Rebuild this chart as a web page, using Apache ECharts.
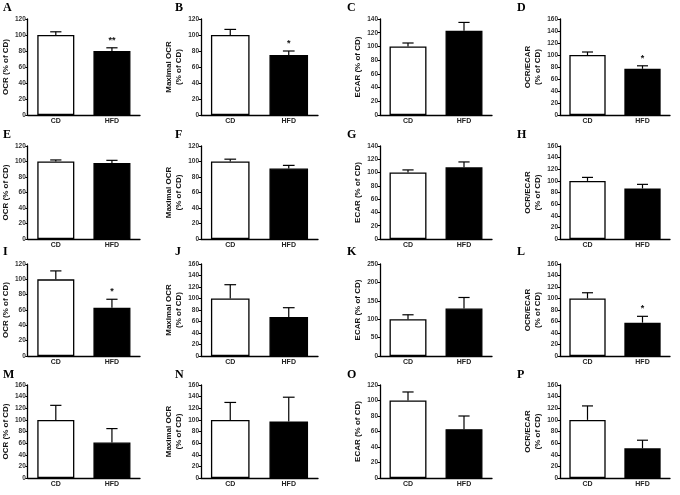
<!DOCTYPE html>
<html>
<head>
<meta charset="utf-8">
<script src="https://cdn.jsdelivr.net/npm/echarts@6/dist/echarts.min.js"></script>
<style>
  html, body { margin: 0; padding: 0; background: #fff; }
  #chart { width: 680px; height: 495px; }
</style>
</head>
<body>
<div id="chart"></div>
<script>
// 数据
const panels = ['A', 'B', 'C', 'D', 'E', 'F', 'G', 'H', 'I', 'J', 'K', 'L', 'M', 'N', 'O', 'P']
const categories = ['CD', 'HFD']
const yNames = [
  'OCR (% of CD)', 'Maximal OCR\n(% of CD)', 'ECAR (% of CD)', 'OCR/ECAR\n(% of CD)',
  'OCR (% of CD)', 'Maximal OCR\n(% of CD)', 'ECAR (% of CD)', 'OCR/ECAR\n(% of CD)',
  'OCR (% of CD)', 'Maximal OCR\n(% of CD)', 'ECAR (% of CD)', 'OCR/ECAR\n(% of CD)',
  'OCR (% of CD)', 'Maximal OCR\n(% of CD)', 'ECAR (% of CD)', 'OCR/ECAR\n(% of CD)'
]
const yMax = [120, 120, 140, 160, 120, 120, 140, 160, 120, 160, 250, 160, 160, 160, 120, 160]
const yStep = [20, 20, 20, 20, 20, 20, 20, 20, 20, 20, 50, 20, 20, 20, 20, 20]
const cdMean = [100, 100, 100, 100, 100, 100, 100, 100, 100, 100, 100, 100, 100, 100, 100, 100]
const cdTop = [104, 107, 105, 105, 102, 103, 104, 106, 111, 124, 112, 110, 125, 130, 111, 124]
const hfdMean = [80, 75, 123, 77, 98, 91, 108, 87, 63, 68, 129, 58, 61, 97, 63, 51]
const hfdTop = [84, 80, 135, 82, 101.5, 95, 116, 94, 74, 84, 159, 69, 85, 139, 80, 65]
const stars = ['**', '*', '', '*', '', '', '', '', '*', '', '', '*', '', '', '', '']

// 版式
const colLeft = [22, 201, 380, 560]
const colWidth = [118, 117, 112, 110]
const rowTop = [19, 146, 264, 385]
const rowHeight = [96, 93, 92, 93]
const letterLeft = [3, 175, 347, 517]
const letterTop = [2, 129, 246, 369]

const font = 'Liberation Sans, Arial, sans-serif'

const chart = echarts.init(document.getElementById('chart'))

const grid = [], xAxis = [], yAxis = [], series = [], title = []

panels.forEach((p, i) => {
  const row = Math.floor(i / 4)
  const col = i % 4

  title.push({
    text: p,
    left: letterLeft[col],
    top: letterTop[row],
    padding: 0,
    textStyle: { fontFamily: 'Liberation Serif, serif', fontWeight: 'bold', fontSize: 12, color: '#000' }
  })

  grid.push({
    left: colLeft[col],
    top: rowTop[row],
    width: colWidth[col],
    height: rowHeight[row]
  })

  xAxis.push({
    type: 'category',
    gridIndex: i,
    data: categories,
    axisLine: { lineStyle: { color: '#000', width: 1.3 } },
    axisTick: { show: false },
    axisLabel: { color: '#222', fontSize: 7, fontWeight: 'bold', fontFamily: font, margin: 3 }
  })

  yAxis.push({
    type: 'value',
    gridIndex: i,
    min: 0,
    max: yMax[i],
    interval: yStep[i],
    name: yNames[i],
    nameLocation: 'middle',
    nameGap: 13,
    nameTextStyle: { color: '#111', fontSize: 8, fontWeight: 'bold', fontFamily: font, lineHeight: 10 },
    axisLine: { show: true, lineStyle: { color: '#000', width: 1.3 } },
    axisTick: { show: true, length: 2.5, lineStyle: { color: '#000', width: 1 } },
    axisLabel: { color: '#333', fontSize: 6.5, fontWeight: 'bold', fontFamily: font, margin: 2 },
    splitLine: { show: false }
  })

  series.push({
    type: 'bar',
    xAxisIndex: i,
    yAxisIndex: i,
    barWidth: '66%',
    silent: true,
    data: [
      { value: cdMean[i], itemStyle: { color: '#fff' } },
      { value: hfdMean[i], itemStyle: { color: '#000' } }
    ],
    itemStyle: { borderColor: '#000', borderWidth: 1.3 },
    z: 2
  })

  // 误差线（仅上半部分）+ 显著性星号
  series.push({
    type: 'custom',
    xAxisIndex: i,
    yAxisIndex: i,
    silent: true,
    data: [[0, cdMean[i], cdTop[i]], [1, hfdMean[i], hfdTop[i]]],
    renderItem: (params, api) => {
      const x = api.value(0)
      const p0 = api.coord([x, api.value(1)])
      const p1 = api.coord([x, api.value(2)])
      const half = api.size([1, 0])[0] * 0.1
      const style = { stroke: '#000', lineWidth: 1.2 }
      const children = [
        { type: 'line', shape: { x1: p0[0], y1: p0[1], x2: p1[0], y2: p1[1] }, style },
        { type: 'line', shape: { x1: p1[0] - half, y1: p1[1], x2: p1[0] + half, y2: p1[1] }, style }
      ]
      if (params.dataIndex === 1 && stars[i]) {
        children.push({
          type: 'text',
          style: {
            text: stars[i], x: p1[0], y: p1[1] - 3,
            align: 'center', verticalAlign: 'bottom',
            fontSize: 9, fontWeight: 'bold', fontFamily: font, fill: '#111'
          }
        })
      }
      return { type: 'group', children }
    },
    z: 3
  })
})

chart.setOption({
  backgroundColor: '#fff',
  animation: false,
  title,
  grid,
  xAxis,
  yAxis,
  series
})
</script>
</body>
</html>
